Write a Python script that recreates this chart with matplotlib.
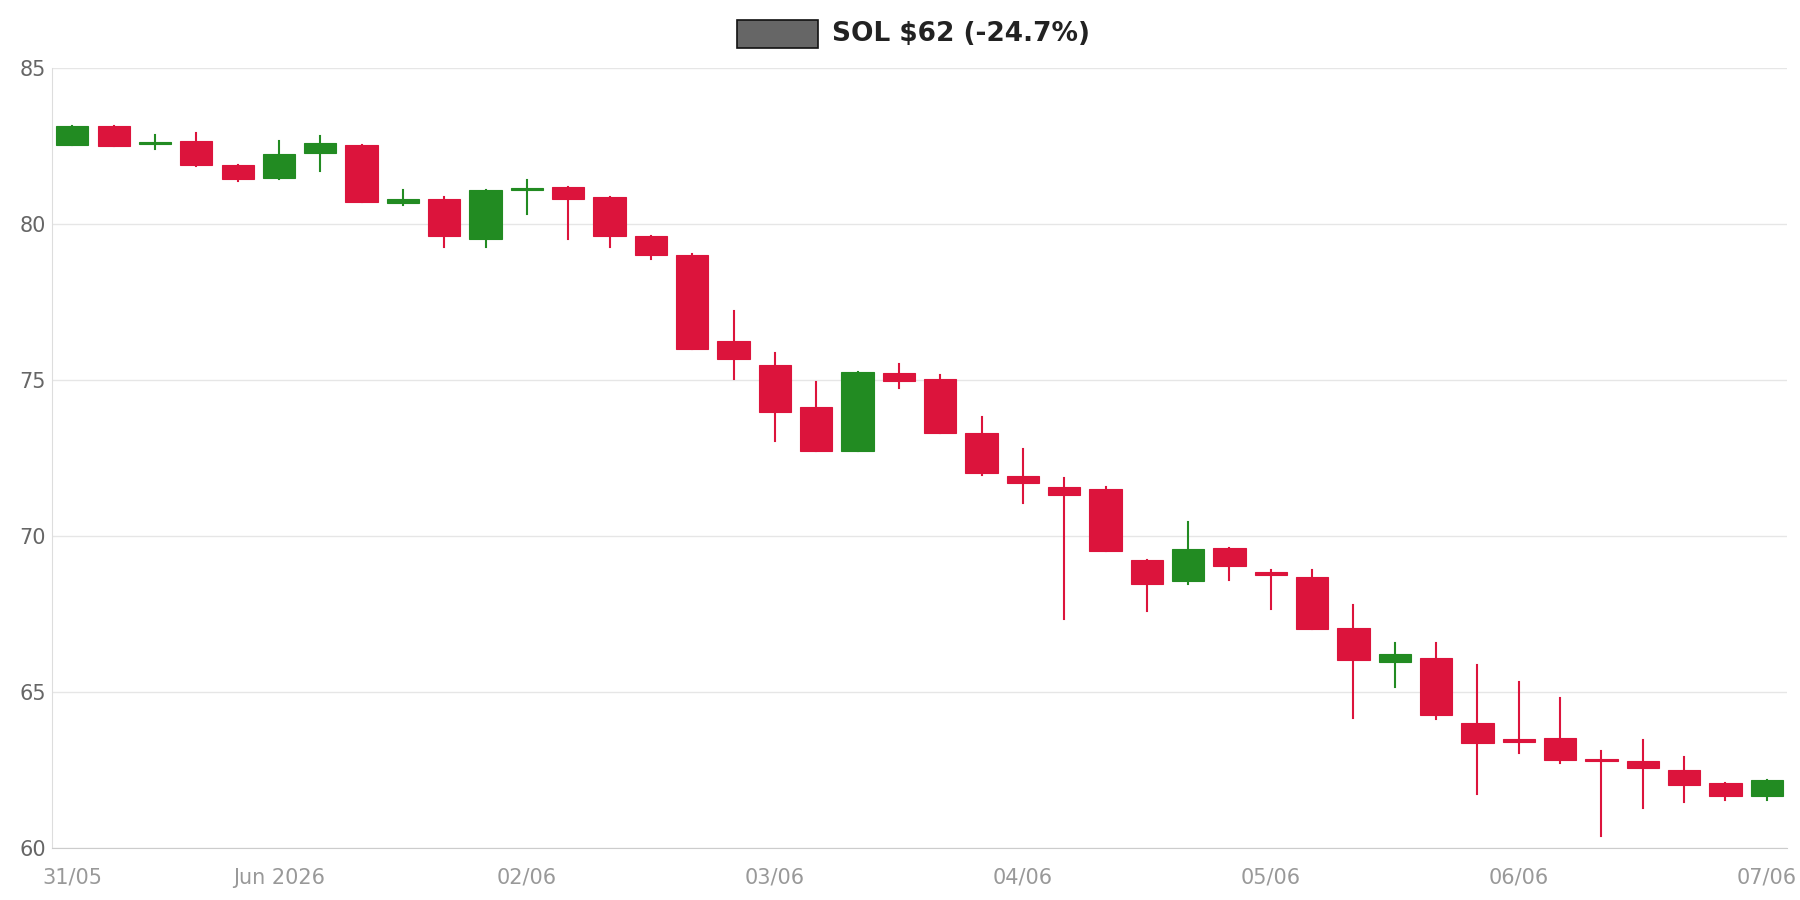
import numpy as np
import matplotlib.pyplot as plt
from matplotlib.patches import Rectangle

opens = [82.54, 83.13, 82.55, 82.65, 81.88, 81.47, 82.28, 82.54, 80.66, 80.80, 79.52,
         81.10, 81.18, 80.85, 79.60, 79.00, 76.25, 75.48, 74.12, 72.72, 75.22, 75.04,
         73.31, 71.91, 71.58, 71.51, 69.23, 68.57, 69.63, 68.86, 68.68, 67.06, 65.96,
         66.10, 64.00, 63.49, 63.53, 62.87, 62.79, 62.50, 62.10, 61.69]
closes = [83.13, 82.50, 82.60, 81.88, 81.43, 82.24, 82.60, 80.70, 80.80, 79.60, 81.10,
          81.15, 80.80, 79.60, 79.00, 76.00, 75.66, 73.97, 72.72, 75.26, 74.96, 73.31,
          72.02, 71.69, 71.32, 69.52, 68.46, 69.60, 69.04, 68.75, 67.02, 66.03, 66.21,
          64.26, 63.38, 63.42, 62.83, 62.79, 62.57, 62.02, 61.69, 62.20]
highs = [83.15, 83.13, 82.85, 82.90, 81.88, 82.65, 82.80, 82.54, 81.10, 80.85, 81.10,
         81.40, 81.18, 80.85, 79.60, 79.05, 77.20, 75.85, 74.93, 75.26, 75.52, 75.15,
         73.82, 72.80, 71.87, 71.58, 69.23, 70.44, 69.63, 68.90, 68.93, 67.80, 66.58,
         66.58, 65.88, 65.33, 64.82, 63.12, 63.46, 62.94, 62.10, 62.20]
lows = [82.54, 82.50, 82.40, 81.85, 81.36, 81.45, 81.70, 80.70, 80.60, 79.26, 79.26,
        80.33, 79.52, 79.26, 78.86, 76.00, 75.04, 73.05, 72.72, 72.72, 74.74, 73.31,
        71.95, 71.07, 67.35, 69.52, 67.60, 68.46, 68.60, 67.68, 67.02, 64.19, 65.18,
        64.15, 61.73, 63.05, 62.72, 60.40, 61.30, 61.47, 61.54, 61.54]
tick_pos = [0, 5, 11, 17, 23, 29, 35, 41]
tick_labels = ["31/05", "Jun 2026", "02/06", "03/06", "04/06", "05/06", "06/06", "07/06"]

fig = plt.figure(figsize=(18, 9), dpi=100)
ax = fig.add_axes([0.0287, 0.0574, 0.9643, 0.8673])

up, down = "#228b22", "#dc143c"
w = 0.78
for i, (o, c, h, l) in enumerate(zip(opens, closes, highs, lows)):
    col = up if c >= o else down
    ax.plot([i, i], [l, h], color=col, lw=1.5, zorder=2)
    ax.add_patch(Rectangle((i - w / 2, min(o, c)), w, max(abs(c - o), 0.06),
                           facecolor=col, edgecolor=col, lw=0.8, zorder=3))

ax.set_xlim(-0.5, 41.5)
ax.set_ylim(60, 85)
ax.set_yticks([60, 65, 70, 75, 80, 85])
ax.set_xticks(tick_pos)
ax.set_xticklabels(tick_labels)
ax.grid(axis="y", color="#e6e6e6", lw=1)
ax.set_axisbelow(True)
ax.tick_params(length=0, labelsize=15, pad=14)
ax.tick_params(axis="y", labelcolor="#666666", pad=4)
ax.tick_params(axis="x", labelcolor="#999999")
for s in ["top", "right"]:
    ax.spines[s].set_visible(False)
ax.spines["left"].set_color("#dddddd")
ax.spines["bottom"].set_color("#cccccc")

fig.patches.append(Rectangle((0.4095, 0.947), 0.045, 0.031, transform=fig.transFigure,
                             facecolor="#666666", edgecolor="#111111", lw=1.2))
fig.text(0.4625, 0.962, "SOL $62 (-24.7%)", fontsize=19, fontweight="bold",
         color="#222222", va="center", ha="left")

fig.savefig("out.png")
